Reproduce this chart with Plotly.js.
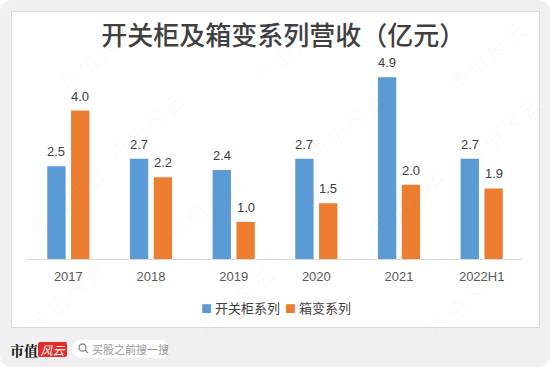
<!DOCTYPE html>
<html>
<head>
<meta charset="utf-8">
<script src="https://cdn.plot.ly/plotly-3.0.1.min.js"></script>
<style>
html,body{margin:0;padding:0;background:#ffffff;}
#wrap{position:relative;width:550px;height:367px;overflow:hidden;}
#bg{position:absolute;left:0;top:0;width:550px;height:367px;background:#f0f0f0;border-radius:12px;}
#frame{position:absolute;left:11px;top:11px;width:527px;height:315px;background:#ffffff;border:1px solid #dadada;}
#chart{position:absolute;left:0;top:0;width:550px;height:367px;}
.wm{position:absolute;font-family:"Noto Sans CJK SC",sans-serif;font-size:20px;color:rgba(0,0,0,0.03);transform:rotate(-40deg);white-space:nowrap;pointer-events:none;letter-spacing:4px;}
#logo1{position:absolute;left:10px;top:340px;font-family:"Noto Serif CJK SC","Noto Sans CJK SC",serif;font-weight:bold;font-size:14px;color:#111;}
#logo2{position:absolute;left:38px;top:342px;width:29px;height:15px;background:#e52a2a;color:#fff;font-family:"Noto Sans CJK SC",sans-serif;font-style:italic;font-size:12px;line-height:15px;text-align:center;border-radius:2px;}
#search{position:absolute;left:72px;top:340px;width:97px;height:18px;background:#ffffff;border-radius:9px;}
#search span{position:absolute;left:20px;top:1px;font-family:"Noto Sans CJK SC",sans-serif;font-size:11px;color:#9a9a9a;}
#search svg{position:absolute;left:6px;top:3px;}
</style>
</head>
<body>
<div id="wrap">
  <div id="bg"></div>
  <div id="frame"></div>
  <div id="chart"></div>
  <div class="wm" style="left:50px;top:40px;">市值风云</div>
  <div class="wm" style="left:245px;top:32px;">市值风云</div>
  <div class="wm" style="left:440px;top:40px;">市值风云</div>
  <div class="wm" style="left:100px;top:110px;">市值风云</div>
  <div class="wm" style="left:300px;top:110px;">市值风云</div>
  <div class="wm" style="left:455px;top:115px;">市值风云</div>
  <div class="wm" style="left:20px;top:185px;">市值风云</div>
  <div class="wm" style="left:160px;top:190px;">市值风云</div>
  <div class="wm" style="left:360px;top:185px;">市值风云</div>
  <div class="wm" style="left:20px;top:280px;">市值风云</div>
  <div class="wm" style="left:190px;top:285px;">市值风云</div>
  <div class="wm" style="left:420px;top:285px;">市值风云</div>
  <div id="logo1">市值</div>
  <div id="logo2">风云</div>
  <div id="search">
    <svg width="11" height="11" viewBox="0 0 11 11"><circle cx="4.5" cy="4.5" r="3.5" stroke="#888" stroke-width="1.3" fill="none"/><line x1="7" y1="7" x2="10" y2="10" stroke="#888" stroke-width="1.3"/></svg>
    <span>买股之前搜一搜</span>
  </div>
</div>
<script>
const categories = ["2017", "2018", "2019", "2020", "2021", "2022H1"];
const switchgear = [2.5, 2.7, 2.4, 2.7, 4.9, 2.7];
const boxTransformer = [4.0, 2.2, 1.0, 1.5, 2.0, 1.9];
const seriesNames = ["开关柜系列", "箱变系列"];
const titleText = "开关柜及箱变系列营收（亿元）";

const fontFam = "Arial, 'Liberation Sans', 'Noto Sans CJK SC', sans-serif";
const cjkFam = "'Noto Sans CJK SC', sans-serif";
const colors = ["#5b9bd5", "#ed7d31"];
const seriesValues = [switchgear, boxTransformer];

const traces = seriesValues.map((vals, i) => ({
  type: "bar", name: seriesNames[i], x: categories, y: vals,
  marker: {color: colors[i]},
  showlegend: false,
  hoverinfo: "x+y"
}));

// value labels placed through the axes (category index on x, value on y)
const slotShift = 11.9;
const annotations = [];
seriesValues.forEach((vals, i) => {
  vals.forEach((v, j) => {
    annotations.push({
      x: j, y: v, xref: "x", yref: "y",
      text: v.toFixed(1), showarrow: false,
      xanchor: "center", yanchor: "middle",
      xshift: i === 0 ? -slotShift : slotShift, yshift: 14.5,
      font: {family: fontFam, size: 13, color: "#404040"}
    });
  });
});

// compact legend (colored square + series name)
const legendX = [0.347, 0.516];
seriesNames.forEach((name, i) => {
  annotations.push({
    xref: "paper", yref: "paper", x: legendX[i], y: -0.252,
    xanchor: "left", yanchor: "middle", showarrow: false,
    text: '<span style="color:' + colors[i] + ';font-size:11px">■</span> ' + name,
    font: {family: cjkFam, size: 13, color: "#404040"}
  });
});

const layout = {
  width: 550, height: 367,
  paper_bgcolor: "rgba(0,0,0,0)",
  plot_bgcolor: "rgba(0,0,0,0)",
  margin: {l: 27, r: 27, t: 66, b: 108},
  barmode: "group",
  bargap: 0.424,
  bargroupgap: 0.23,
  showlegend: false,
  annotations: annotations,
  title: {
    text: titleText,
    font: {family: cjkFam, size: 26, color: "#404040", weight: 500},
    x: 0.515, xanchor: "center", y: 0.902, yanchor: "middle"
  },
  xaxis: {
    type: "category",
    range: [-0.5, categories.length - 0.5],
    showline: true, linecolor: "#d9d9d9", linewidth: 1,
    showgrid: false, zeroline: false, ticks: "",
    tickfont: {family: fontFam, size: 13, color: "#595959"},
    ticklabelstandoff: 5
  },
  yaxis: {
    range: [0, 5.2], visible: false, showgrid: false, zeroline: false
  }
};

Plotly.newPlot("chart", traces, layout, {displayModeBar: false, staticPlot: true});
</script>
</body>
</html>
